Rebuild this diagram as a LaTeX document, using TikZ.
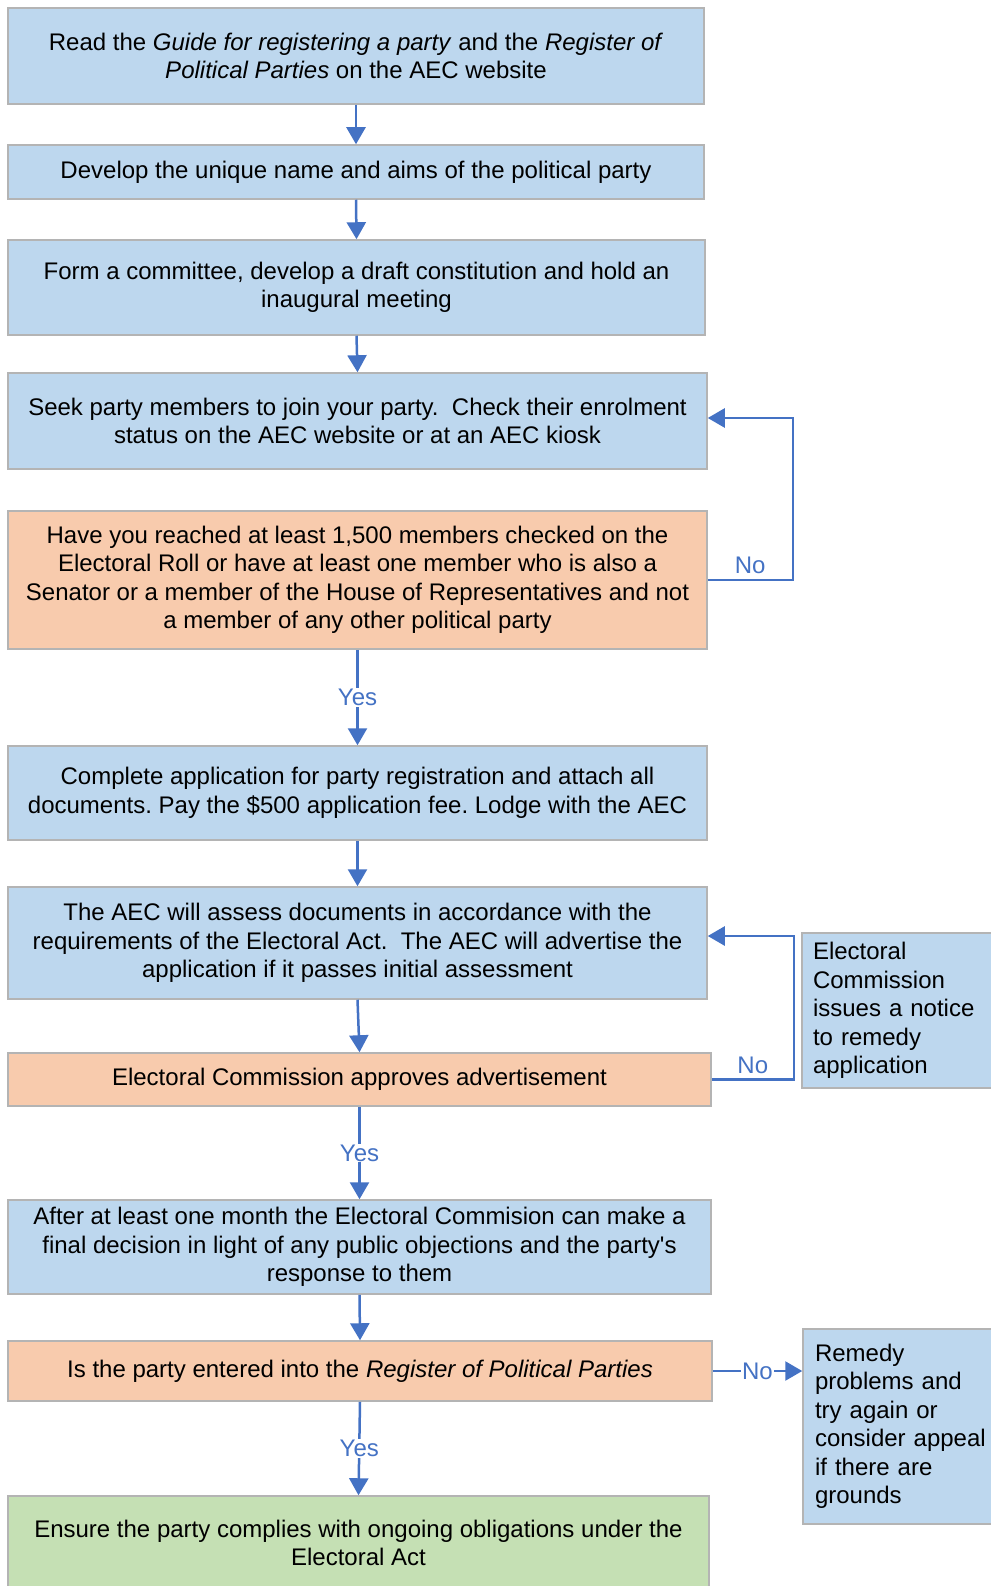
\documentclass[tikz,border=0pt]{standalone}
\usepackage{fontspec}
\setmainfont{Liberation Sans}
\usepackage{tikz}
\usetikzlibrary{arrows.meta}
\frenchspacing
\definecolor{boxblue}{HTML}{BDD7EE}
\definecolor{boxorange}{HTML}{F8CBAD}
\definecolor{boxgreen}{HTML}{C5E0B4}
\definecolor{boxedge}{HTML}{B4B4B4}
\definecolor{linkblue}{HTML}{4472C4}
\tikzset{
  flowbox/.style={rectangle, draw=boxedge, line width=1.5pt, inner sep=0pt, align=center, font=\fontsize{24}{28.5}\selectfont},
  bluestep/.style={flowbox, fill=boxblue},
  askstep/.style={flowbox, fill=boxorange},
  endstep/.style={flowbox, fill=boxgreen},
  sidenote/.style={flowbox, fill=boxblue, align=left, text width=172pt, inner xsep=11pt},
  flowline/.style={draw=linkblue, line width=2.5pt, -{Triangle[length=17pt, width=19pt]}},
  flowlabel/.style={text=linkblue, font=\fontsize{24}{28.5}\selectfont, fill=white, inner sep=1pt}
}
\newcommand{\fabox}[5] {\node at (#1) (#2) [#3, #4] {#5};}
\newcommand{\faarrow}[2] {\draw [flowline] (#1.south) -- (#2.north);}
\newcommand{\fayesarrow}[2] {\draw [flowline] (#1.south) -- node [flowlabel] {Yes} (#2.north);}

\begin{document}
\begin{tikzpicture}[x=1pt, y=-1pt]
\useasboundingbox (0,0) rectangle (990,1586);

\fabox {356,56} {read} {bluestep} {minimum width=696pt, minimum height=96pt}
  {Read the \textit{Guide for registering a party} and the \textit{Register of}\\ \textit{Political Parties} on the AEC website};
\fabox {356,172} {name} {bluestep} {minimum width=696pt, minimum height=54pt}
  {Develop the unique name and aims of the political party};
\fabox {356.5,287.5} {committee} {bluestep} {minimum width=697pt, minimum height=95pt}
  {Form a committee, develop a draft constitution and hold an\\ inaugural meeting};
\fabox {357.5,421} {members} {bluestep} {minimum width=699pt, minimum height=96pt}
  {Seek party members to join your party.\ \ Check their enrolment\\ status on the AEC website or at an AEC kiosk};
\fabox {357.5,580} {enough} {askstep} {minimum width=699pt, minimum height=138pt}
  {Have you reached at least 1,500 members checked on the\\ Electoral Roll or have at least one member who is also a\\ Senator or a member of the House of Representatives and not\\ a member of any other political party};
\fabox {357.5,793} {apply} {bluestep} {minimum width=699pt, minimum height=94pt}
  {Complete application for party registration and attach all\\ documents. Pay the \$500 application fee. Lodge with the AEC};
\fabox {357.5,943} {assess} {bluestep} {minimum width=699pt, minimum height=112pt}
  {The AEC will assess documents in accordance with the\\ requirements of the Electoral Act.\ \ The AEC will advertise the\\ application if it passes initial assessment};
\fabox {359.5,1079.5} {advert} {askstep} {minimum width=703pt, minimum height=53pt}
  {Electoral Commission approves advertisement};
\fabox {359.5,1247} {decide} {bluestep} {minimum width=703pt, minimum height=94pt}
  {After at least one month the Electoral Commision can make a\\ final decision in light of any public objections and the party\textquotesingle s\\ response to them};
\fabox {360,1371} {entered} {askstep} {minimum width=704pt, minimum height=60pt}
  {Is the party entered into the \textit{Register of Political Parties}};
\fabox {358.5,1543} {comply} {endstep} {minimum width=701pt, minimum height=94pt}
  {Ensure the party complies with ongoing obligations under the\\ Electoral Act};

\fabox {899,1010.5} {notice} {sidenote} {minimum height=155pt}
  {Electoral\\ Commission\\ issues a notice\\ to remedy\\ application};
\fabox {901,1426.5} {remedy} {sidenote} {minimum height=195pt, inner xsep=12pt}
  {Remedy\\ problems and\\ try again or\\ consider appeal\\ if there are\\ grounds};

\faarrow {read}{name};
\faarrow {name}{committee};
\faarrow {committee}{members};
\fayesarrow {enough}{apply};
\faarrow {apply}{assess};
\faarrow {assess}{advert};
\fayesarrow {advert}{decide};
\faarrow {decide}{entered};
\fayesarrow {entered}{comply};

% the two No loops and the No branch
\draw [flowline] (enough.east) -- node [flowlabel, fill=none, above, inner sep=5pt] {No} ([xshift=85pt]enough.east)
  |- ([yshift=3pt]members.east);
\draw [flowline] (advert.east) -- node [flowlabel, fill=none, above, inner sep=5pt] {No} ([xshift=82pt]advert.east)
  |- ([yshift=7pt]assess.east);
\draw [flowline] (entered.east) -- node [flowlabel] {No} (entered.east -| remedy.west);

\end{tikzpicture}
\end{document}
